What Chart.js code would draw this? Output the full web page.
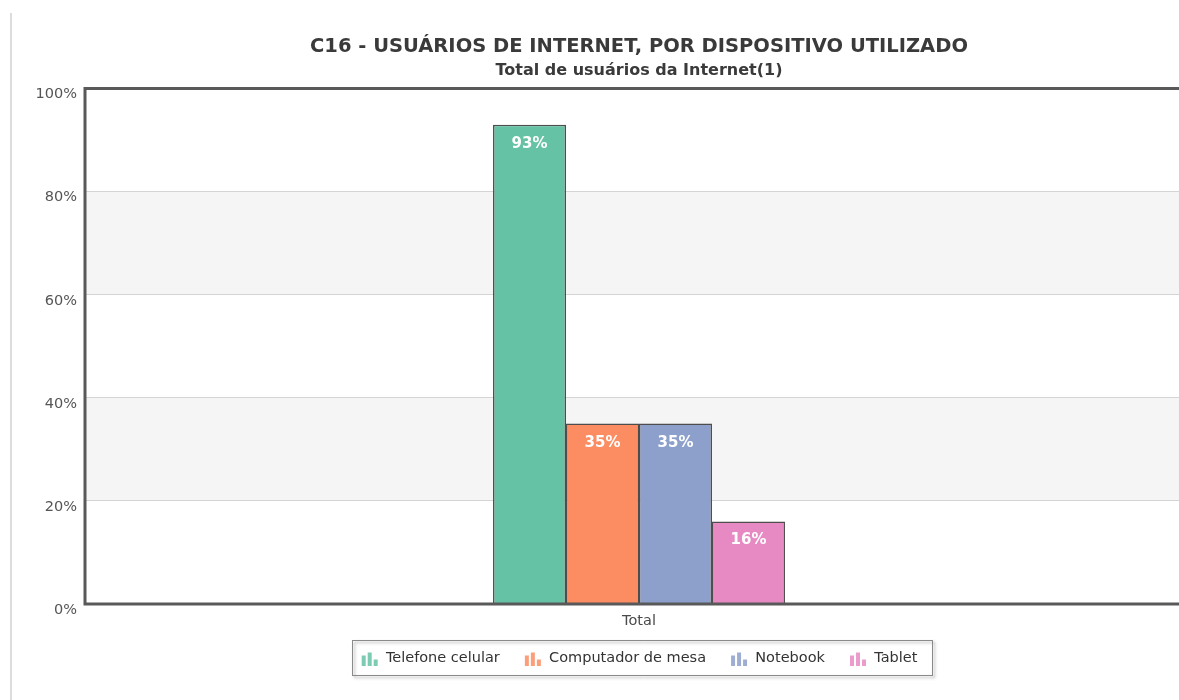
<!DOCTYPE html>
<html>
<head>
<meta charset="utf-8">
<script src="https://cdn.jsdelivr.net/npm/chart.js@4.4.0/dist/chart.umd.min.js"></script>
<style>
  html, body { margin: 0; padding: 0; background: #fff; overflow: hidden; width: 1179px; height: 700px; }
  #vline { position: absolute; left: 10px; top: 13px; width: 2px; height: 700px; background: #dcdcdc; }
  #wrap { position: absolute; left: 12px; top: 0; width: 1254px; height: 700px; }
</style>
</head>
<body>
<div id="vline"></div>
<div id="wrap"><canvas id="c"></canvas></div>
<script>
const titleText = "C16 - USUÁRIOS DE INTERNET, POR DISPOSITIVO UTILIZADO";
const subtitleText = "Total de usuários da Internet(1)";
const categories = ["Total"];
const seriesNames = ["Telefone celular", "Computador de mesa", "Notebook", "Tablet"];
const telefoneCelular = [93];
const computadorDeMesa = [35];
const notebook = [35];
const tablet = [16];
const seriesValues = [telefoneCelular, computadorDeMesa, notebook, tablet];
const seriesColors = ["#66c2a5", "#fc8d62", "#8da0cb", "#e78ac3"];
const yTicks = [0, 20, 40, 60, 80, 100];

const FONT = "'DejaVu Sans', Verdana, sans-serif";

function makeIcon(color) {
  const c = document.createElement('canvas');
  c.width = 18; c.height = 15;
  const g = c.getContext('2d');
  g.fillStyle = color;
  g.globalAlpha = 0.85;
  g.fillRect(1, 5, 4, 10);
  g.fillRect(7, 2, 4, 13);
  g.fillRect(13, 9, 4, 6);
  return c;
}
const icons = seriesColors.map(makeIcon);

const bgPlugin = {
  id: 'bands',
  beforeDraw(chart) {
    const { ctx, chartArea: a, scales: { y } } = chart;
    ctx.save();
    ctx.fillStyle = '#f5f5f5';
    [[20, 40], [60, 80]].forEach(([lo, hi]) => {
      const y1 = y.getPixelForValue(hi), y2 = y.getPixelForValue(lo);
      ctx.fillRect(a.left, y1, a.right - a.left, y2 - y1);
    });
    ctx.restore();
  },
  afterDatasetsDraw(chart) {
    const { ctx, chartArea: a } = chart;
    ctx.save();
    ctx.font = "bold 15px " + FONT;
    ctx.fillStyle = '#ffffff';
    ctx.textAlign = 'center';
    ctx.textBaseline = 'middle';
    chart.data.datasets.forEach((ds, i) => {
      const meta = chart.getDatasetMeta(i);
      meta.data.forEach((bar, j) => {
        ctx.fillText(ds.data[j] + '%', bar.x, bar.y + 19);
      });
    });
    ctx.strokeStyle = '#595959';
    ctx.lineWidth = 3;
    ctx.beginPath();
    ctx.moveTo(a.right + 2, a.top);
    ctx.lineTo(a.left, a.top);
    ctx.lineTo(a.left, a.bottom);
    ctx.lineTo(a.right + 2, a.bottom);
    ctx.stroke();
    ctx.restore();
  },
  afterDraw(chart) {
    const lg = chart.legend;
    if (!lg || !lg.legendHitBoxes || !lg.legendHitBoxes.length) return;
    const hb = lg.legendHitBoxes;
    const minX = Math.min(...hb.map(h => h.left)) - 9;
    const maxX = Math.max(...hb.map(h => h.left + h.width)) + 14;
    const cy = hb[0].top + hb[0].height / 2;
    const { ctx } = chart;
    ctx.save();
    ctx.shadowColor = 'rgba(0,0,0,0.35)';
    ctx.shadowBlur = 3;
    ctx.shadowOffsetX = 2;
    ctx.shadowOffsetY = 2;
    ctx.strokeStyle = '#8a8a8a';
    ctx.lineWidth = 1;
    ctx.strokeRect(Math.round(minX) + 0.5, Math.round(cy - 18) + 0.5, Math.round(maxX - minX), 35);
    ctx.restore();
  }
};

const datasets = seriesNames.map((name, i) => ({
  label: name,
  data: seriesValues[i],
  backgroundColor: seriesColors[i],
  borderColor: '#4d4d4d',
  borderWidth: 1.5,
  borderSkipped: 'bottom',
  categoryPercentage: 0.2635,
  barPercentage: 1.0,
  pointStyle: icons[i]
}));

new Chart(document.getElementById('c'), {
  type: 'bar',
  data: { labels: categories, datasets },
  options: {
    responsive: true,
    maintainAspectRatio: false,
    animation: false,
    layout: { padding: { left: 0, right: 73, top: 0, bottom: 24.75 } },
    plugins: {
      title: {
        display: true, fullSize: false, text: titleText, color: '#3a3a3a',
        font: { family: FONT, size: 19.5, weight: 'bold' },
        padding: { top: 35, bottom: 2 }
      },
      subtitle: {
        display: true, fullSize: false, text: subtitleText, color: '#3a3a3a',
        font: { family: FONT, size: 16, weight: 'bold' },
        padding: { top: 1, bottom: 8 }
      },
      legend: {
        position: 'bottom',
        fullSize: false,
        labels: {
          usePointStyle: true,
          pointStyleWidth: 18,
          color: '#333333',
          font: { family: FONT, size: 14.5 },
          padding: 24,
          boxHeight: 15
        }
      },
      tooltip: { enabled: false }
    },
    scales: {
      x: {
        grid: { display: false, drawTicks: false },
        border: { display: false },
        afterFit(scale) { scale.height = 22.75; },
        ticks: { color: '#4a4a4a', font: { family: FONT, size: 14.5 }, padding: 9 }
      },
      y: {
        min: 0, max: 100,
        afterBuildTicks(scale) { scale.ticks = yTicks.map(v => ({ value: v })); },
        afterFit(scale) { scale.width = 73; },
        grid: { color: '#d4d4d4', lineWidth: 1, drawTicks: false },
        border: { display: false },
        ticks: {
          color: '#555555', font: { family: FONT, size: 14.5 }, padding: 8, labelOffset: 6,
          callback: v => v + '%'
        }
      }
    }
  },
  plugins: [bgPlugin]
});
</script>
</body>
</html>
